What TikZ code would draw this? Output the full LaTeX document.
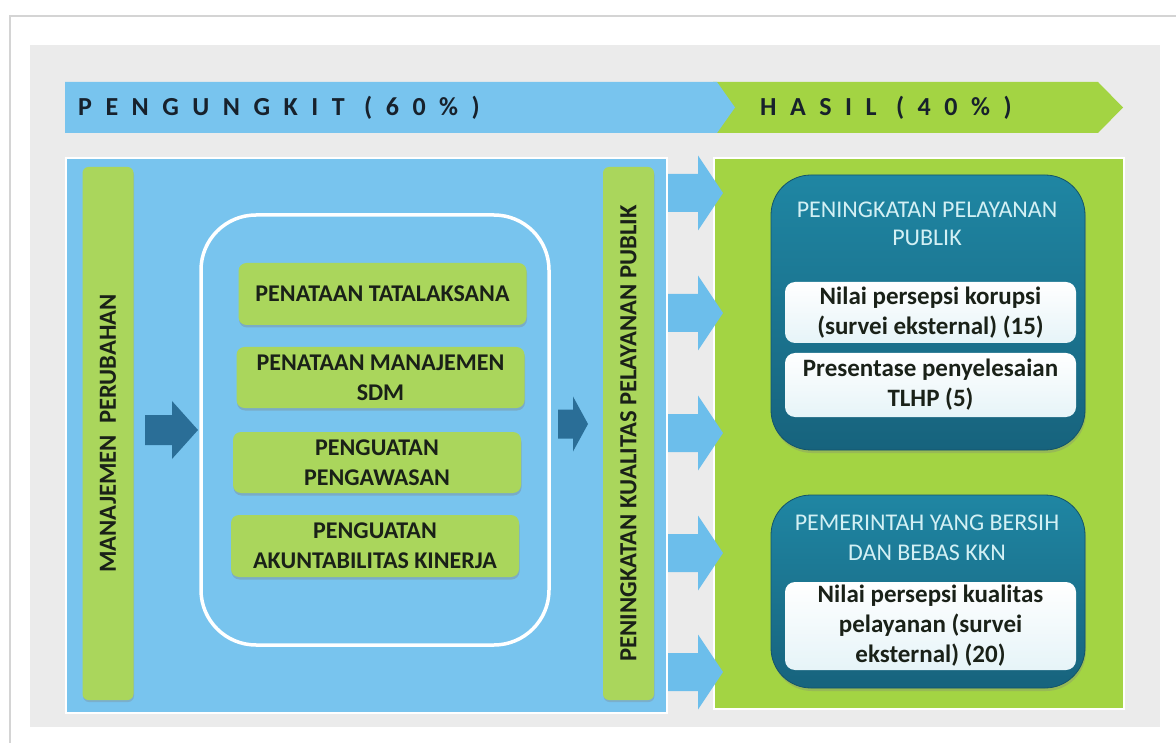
\documentclass[tikz,border=0pt]{standalone}
\usepackage{fontspec}
\setmainfont{Carlito}
\newfontfamily\hdrfont[LetterSpace=52]{Carlito}
\usetikzlibrary{shadows}
\definecolor{bgGray}{HTML}{EBEBEB}
\definecolor{skyBlue}{HTML}{78C4EE}
\definecolor{arrowBlue}{HTML}{6CBEEB}
\definecolor{limeGreen}{HTML}{A3D443}
\definecolor{boxGreen}{HTML}{AAD65C}
\definecolor{darkArrow}{HTML}{2A6E97}
\definecolor{tealTop}{HTML}{1F86A3}
\definecolor{tealBot}{HTML}{17637D}
\definecolor{titleCyan}{HTML}{D3F0F4}
\definecolor{txtDark}{HTML}{1A2118}
\definecolor{navyTxt}{HTML}{17212C}
\definecolor{paleBlue}{HTML}{E6F4F8}
\definecolor{frameGray}{HTML}{D4D4D4}
% block arrow: #1 colour, #2 tip coordinate name, #3 head length, #4 head half width,
% #5 body half width, #6 body length
\newcommand{\myblockarrow}[6]{%
  \fill[#1] (#2) -- ++(-#3,-#4) -- ++(0,#4-#5) -- ++(-#6,0) -- ++(0,2*#5)
    -- ++(#6,0) -- ++(0,#4-#5) -- cycle;}
\begin{document}
\begin{tikzpicture}[x=1pt,y=-1pt,
  greenbar/.style={fill=boxGreen, rounded corners=6pt, rotate=90, inner sep=0,
    minimum width=533, minimum height=51,
    font=\bfseries\fontsize{24.6}{28}\selectfont, text=txtDark,
    drop shadow={shadow xshift=0.5pt, shadow yshift=-2pt, opacity=0.3}},
  greenbox/.style={fill=boxGreen, rounded corners=8pt, minimum width=288, inner sep=0,
    align=center, font=\bfseries\fontsize{24}{30}\selectfont, text=txtDark,
    drop shadow={shadow xshift=0.5pt, shadow yshift=-2.5pt, opacity=0.35}},
  tealbox/.style={rounded corners=40pt, top color=tealTop, bottom color=tealBot,
    draw=tealBot!85!black, line width=0.8, minimum width=314, inner sep=0,
    drop shadow={shadow xshift=1pt, shadow yshift=-3pt, opacity=0.3}},
  tealtitle/.style={text=titleCyan, align=center, inner sep=0},
  whitebox/.style={rounded corners=10pt, top color=white, bottom color=paleBlue,
    minimum width=291, inner sep=0, align=center,
    font=\bfseries\fontsize{25}{30}\selectfont, text=txtDark},
  panel/.style={draw=white, line width=2, inner sep=0, anchor=north west},
  hdrtext/.style={anchor=west, inner sep=0, text=navyTxt,
    font=\hdrfont\bfseries\fontsize{26}{30}\selectfont},
]
\useasboundingbox (0,0) rectangle (1176,743);
\fill[white] (0,0) rectangle (1176,743);
\draw[frameGray, line width=2] (10,743) -- (10,16) -- (1176,16);
\fill[bgGray] (30,45) rectangle (1160,727);

% header chevrons
\fill[limeGreen] (713,82) -- (1098,82) -- (1123,107.5) -- (1098,133) -- (713,133) -- cycle;
\fill[skyBlue] (65,82) -- (717,82) -- (735,107.5) -- (717,133) -- (65,133) -- cycle;
\node[hdrtext] (hdrL) at (78,108) {PENGUNGKIT (60\%)};
\node[hdrtext] (hdrR) at (760,108) {HASIL (40\%)};

% panels
\node[panel, fill=skyBlue, minimum width=601, minimum height=555] (leftpanel) at (65,157) {};
\node[panel, fill=limeGreen, minimum width=410, minimum height=551] (rightpanel) at (713,157) {};

% light arrows between panels
\foreach \yy/\nm in {193/la1, 313/la2, 433/la3, 553/la4, 672/la5}{
  \coordinate (\nm) at (723,\yy);
  \myblockarrow{arrowBlue}{\nm}{25}{37.5}{19}{30}
}

% left column
\node[greenbar] (mp) at (108,433.5) {MANAJEMEN\ \ PERUBAHAN};
\node[draw=white, line width=3.5, rounded corners=55pt, minimum width=348, minimum height=430, inner sep=0] (grp) at (375,430) {};
\coordinate (da1) at (198,430);
\myblockarrow{darkArrow}{da1}{26}{29}{15}{27}
\coordinate (da2) at (588,424);
\myblockarrow{darkArrow}{da2}{15}{27.5}{14.5}{15}

\node[greenbox, minimum height=62] (b1) at (382.5,294) {PENATAAN TATALAKSANA};
\node[greenbox, minimum height=61] (b2) at (380.5,377.5) {PENATAAN MANAJEMEN\\SDM};
\node[greenbox, minimum height=61] (b3) at (377,462.5) {PENGUATAN\\PENGAWASAN};
\node[greenbox, minimum height=62] (b4) at (375,546) {PENGUATAN\\AKUNTABILITAS KINERJA};

\node[greenbar] (pk) at (628.5,433.5) {PENINGKATAN KUALITAS PELAYANAN PUBLIK};

% right column
\node[tealbox, minimum height=275] (t1) at (928,312.5) {};
\node[tealtitle, font=\fontsize{24}{28}\selectfont] (t1h) at (927,224) {PENINGKATAN PELAYANAN\\PUBLIK};
\node[whitebox, minimum height=61] (w1) at (930.5,312.5) {Nilai persepsi korupsi\\(survei eksternal) (15)};
\node[whitebox, minimum height=64] (w2) at (930.5,385) {Presentase penyelesaian\\TLHP (5)};

\node[tealbox, minimum height=193] (t2) at (928,591.5) {};
\node[tealtitle, font=\fontsize{24}{30}\selectfont] (t2h) at (927,538) {PEMERINTAH YANG BERSIH\\DAN BEBAS KKN};
\node[whitebox, minimum height=88] (w3) at (930.5,626) {Nilai persepsi kualitas\\pelayanan (survei\\eksternal) (20)};
\end{tikzpicture}
\end{document}
